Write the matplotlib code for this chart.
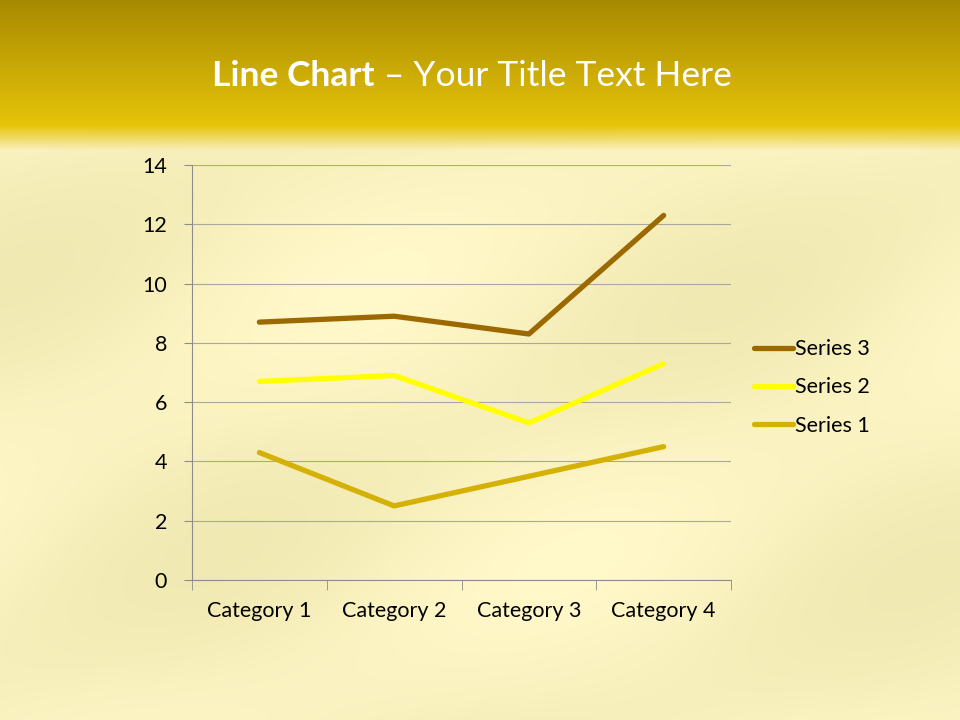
import numpy as np
import matplotlib
matplotlib.use("Agg")
from matplotlib import pyplot as plt

categories = ["Category 1", "Category 2", "Category 3", "Category 4"]
series_names = ["Series 1", "Series 2", "Series 3"]
series_1 = [4.3, 2.5, 3.5, 4.5]
series_2 = [2.4, 4.4, 1.8, 2.8]
series_3 = [2.0, 2.0, 3.0, 5.0]
colors = ["#d4b104", "#ffff00", "#9c6900"]

plt.rcParams['font.family'] = ['Lato', 'DejaVu Sans']

fig = plt.figure(figsize=(9.6, 7.2), dpi=100)

# background: gold banner on top, pale silk below
bg = fig.add_axes([0, 0, 1, 1], zorder=-10)
bg.set_axis_off()
h, w = 720, 960
yy, xx = np.mgrid[0:h, 0:w].astype(float)
img = np.zeros((h, w, 3))
base = np.array([249, 241, 190]) / 255
shade = 0.018 * np.sin((xx * 0.5 + yy) / 60.0) + 0.012 * np.sin((xx - yy * 0.7) / 110.0)
for c in range(3):
    img[..., c] = base[c] + shade * (1.0 if c < 2 else 1.5)
top = np.array([168, 138, 0]) / 255
mid = np.array([230, 196, 10]) / 255
t = np.clip(yy / 125.0, 0, 1)
banner = top[None, None, :] * (1 - t[..., None]) + mid[None, None, :] * t[..., None]
fade = np.clip((yy - 125) / 25.0, 0, 1)[..., None]
img = banner * (1 - fade) + img * fade
bg.imshow(np.clip(img, 0, 1), extent=[0, 1, 0, 1], aspect='auto')

# title, bold part + regular part
renderer = fig.canvas.get_renderer()
t1 = fig.text(0, 0.894, "Line Chart", fontsize=25.5, fontweight='bold', color='white', va='center')
t2 = fig.text(0, 0.894, " \u2013 Your Title Text Here", fontsize=25.5, color='white', va='center')
w1 = t1.get_window_extent(renderer).width
w2 = t2.get_window_extent(renderer).width
x0 = (472 - (w1 + w2) / 2) / 960
t1.set_x(x0)
t2.set_x(x0 + w1 / 960)

ax = fig.add_axes([0.2, 0.1944, 0.5615, 0.5764])
ax.patch.set_alpha(0)

x = np.arange(len(categories))
stacked = np.cumsum(np.array([series_1, series_2, series_3]), axis=0)
lines = []
for name, vals, col in zip(series_names, stacked, colors):
    ln, = ax.plot(x, vals, color=col, lw=3.8, label=name, solid_capstyle='round')
    lines.append(ln)

ax.set_xlim(-0.5, len(categories) - 0.5)
ax.set_ylim(0, 14)
ax.set_yticks(np.arange(0, 15, 2))
ax.yaxis.grid(True, color='#a8a8a0', lw=0.8)
ax.set_axisbelow(True)

ax.set_xticks(x)
ax.set_xticklabels(categories, fontsize=15.5)
ax.tick_params(axis='x', length=0, pad=15)
ax.set_xticks(np.arange(-0.5, len(categories), 1), minor=True)
ax.tick_params(axis='x', which='minor', length=7, color='#8c8c8c')
ax.tick_params(axis='y', length=6, color='#8c8c8c', labelsize=15.5, pad=12)

for s in ['top', 'right']:
    ax.spines[s].set_visible(False)
for s in ['left', 'bottom']:
    ax.spines[s].set_color('#8c8c8c')

fig.legend(lines[::-1], series_names[::-1], loc='center left', bbox_to_anchor=(0.765, 0.462),
           frameon=False, fontsize=15.5, handlelength=1.8, handletextpad=0.1, labelspacing=0.85)

fig.savefig("out.png", dpi=100)
